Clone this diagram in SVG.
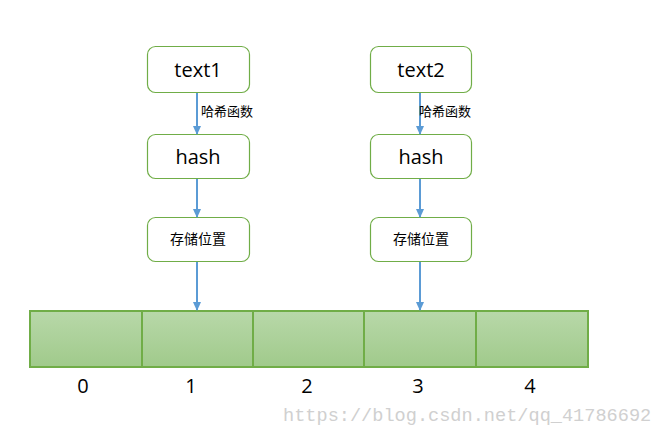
<svg xmlns="http://www.w3.org/2000/svg" width="662" height="435" viewBox="0 0 662 435">
<defs>
<style>
.box{fill:#ffffff;stroke:#70ad47;stroke-width:1.2}
.t{font-family:"Open Sans","Liberation Sans",sans-serif;font-size:20px;fill:#000;text-anchor:middle}
.c{font-family:"Liberation Sans","Noto Sans CJK SC",sans-serif;font-size:14px;fill:#000;text-anchor:middle}
.lbl{font-family:"Liberation Sans","Noto Sans CJK SC",sans-serif;font-size:13px;fill:#000}
.edge{stroke:#5b9bd5;stroke-width:2;fill:none;marker-end:url(#ah)}
.cell{fill:url(#g);stroke:#70ad47;stroke-width:2}
.idx{font-family:"Open Sans","Liberation Sans",sans-serif;font-size:20px;fill:#000;text-anchor:middle}
</style>
<linearGradient id="g" x1="0" y1="0" x2="0" y2="1">
<stop offset="0" stop-color="#b8d8a9"/>
<stop offset="1" stop-color="#a0ca8b"/>
</linearGradient>
<marker id="ah" markerWidth="10" markerHeight="10" refX="8" refY="5" orient="auto" markerUnits="userSpaceOnUse">
<path d="M0,1 L9,5 L0,9 z" fill="#5b9bd5"/>
</marker>
</defs>
<g id="n-text1"><rect class="box" x="147.5" y="46.5" width="102" height="46" rx="8"/><text class="t" x="198" y="77">text1</text></g>
<g id="n-hash1"><rect class="box" x="147.5" y="134.5" width="102" height="44" rx="8"/><text class="t" x="198" y="164">hash</text></g>
<g id="n-pos1"><rect class="box" x="147.5" y="217.5" width="102" height="44" rx="8"/><text class="c" x="198" y="244">存储位置</text></g>
<g id="n-text2"><rect class="box" x="370.5" y="46.5" width="101" height="46" rx="8"/><text class="t" x="421" y="77">text2</text></g>
<g id="n-hash2"><rect class="box" x="370.5" y="134.5" width="101" height="44" rx="8"/><text class="t" x="421" y="164">hash</text></g>
<g id="n-pos2"><rect class="box" x="370.5" y="217.5" width="101" height="44" rx="8"/><text class="c" x="421" y="244">存储位置</text></g>
<g id="n-array">
<rect class="cell" x="30" y="311" width="112" height="56"/>
<rect class="cell" x="142" y="311" width="111" height="56"/>
<rect class="cell" x="253" y="311" width="111" height="56"/>
<rect class="cell" x="364" y="311" width="112" height="56"/>
<rect class="cell" x="476" y="311" width="112" height="56"/>
<text class="idx" x="83" y="393">0</text>
<text class="idx" x="191" y="393">1</text>
<text class="idx" x="307" y="393">2</text>
<text class="idx" x="418" y="393">3</text>
<text class="idx" x="530" y="393">4</text>
</g>
<g id="edges">
<line class="edge" x1="197" y1="93" x2="197" y2="134"/>
<line class="edge" x1="197" y1="179" x2="197" y2="217"/>
<line class="edge" x1="197" y1="262" x2="197" y2="310"/>
<line class="edge" x1="420" y1="93" x2="420" y2="134"/>
<line class="edge" x1="420" y1="179" x2="420" y2="217"/>
<line class="edge" x1="420" y1="262" x2="420" y2="310"/>
<text class="lbl" x="201" y="116">哈希函数</text>
<text class="lbl" x="419" y="116">哈希函数</text>
</g>
<text x="283" y="421" font-family="'Liberation Mono',monospace" font-size="18.6" fill="#d0d0d0">https://blog.csdn.net/qq_41786692</text>
</svg>
